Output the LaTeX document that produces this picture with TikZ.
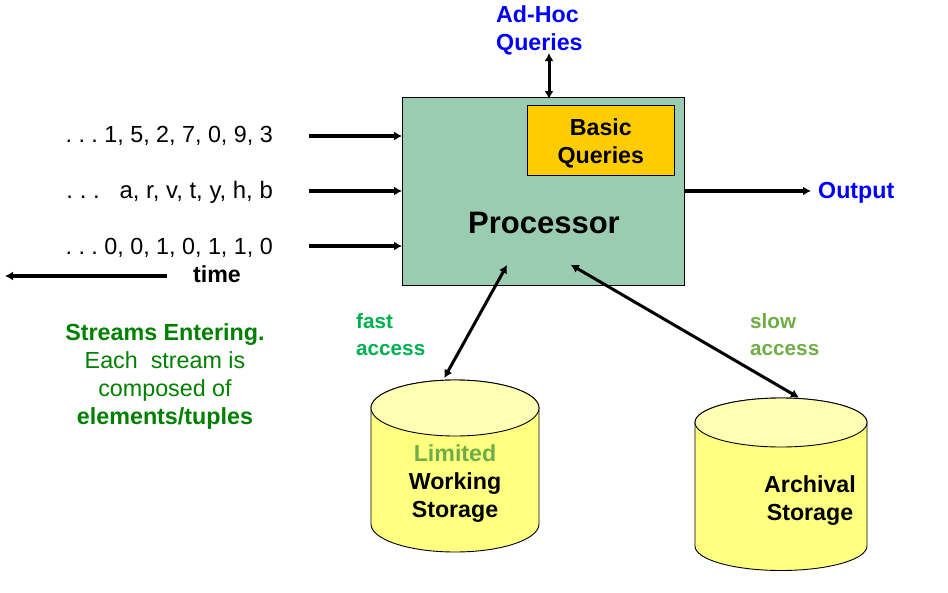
\documentclass[tikz,border=0pt]{standalone}
\usepackage{fontspec}
\setmainfont{Liberation Sans}
\usetikzlibrary{arrows.meta}
\definecolor{procg}{HTML}{99CCB0}
\definecolor{cylbody}{HTML}{FFFF80}
\definecolor{cyltop}{HTML}{FFFFB3}
\definecolor{gold}{HTML}{FFCC00}
\definecolor{dgreen}{HTML}{008000}
\definecolor{lgreen}{HTML}{70AD47}
\definecolor{mgreen}{HTML}{00B050}
\tikzset{x=1pt,y=-1pt,
 arr/.style={-{Latex[length=8pt,width=9pt]},line width=3.2pt,black},
 biarr/.style={{Latex[length=8pt,width=9pt]}-{Latex[length=8pt,width=9pt]},line width=3pt,black},
 txt/.style={font=\fontsize{23.3}{28}\selectfont\frenchspacing,inner sep=0pt,align=center},
 btxt/.style={txt,font=\fontsize{23.2}{28}\selectfont\bfseries},
 stxt/.style={txt,align=left,anchor=west,font=\fontsize{20.7}{27}\selectfont\bfseries},
 rtxt/.style={txt,anchor=east},
 boxs/.style={draw=black,line width=0.9pt}}
\begin{document}
\begin{tikzpicture}
\useasboundingbox (0,0) rectangle (948,592);
\node[boxs,fill=procg,minimum width=282pt,minimum height=188pt,inner sep=0pt] (proc) at (543.5,191.5) {};
\node[font=\fontsize{31}{34}\selectfont\bfseries,inner sep=0pt] (ptxt) at (544,223) {Processor};
\node[boxs,fill=gold,minimum width=147pt,minimum height=70pt,btxt,text width=147pt,inner sep=0pt] (bq) at (600.8,140.3) {\vphantom{Bp}\raisebox{-6pt}{Basic}\\\raisebox{-6pt}{Queries}};
\node[btxt,text=blue,align=left,anchor=west] (adhoc) at (496,30.5) {Ad-Hoc\\Queries};
\node[btxt,text=blue,anchor=west] (out) at (818,192.5) {Output};
\node[rtxt] (s1) at (273,136) {. . . 1, 5, 2, 7, 0, 9, 3};
\node[rtxt,font=\fontsize{23.9}{28}\selectfont\frenchspacing] (s2) at (273,192) {. . .~~~a, r, v, t, y, h, b};
\node[rtxt] (s3) at (273,248) {. . . 0, 0, 1, 0, 1, 1, 0};
\node[btxt] (time) at (217,274) {time};
\coordinate (tl) at (5,276);
\coordinate (tr) at (167,276);
\node[txt,text=dgreen] (st) at (165,376) {\textbf{Streams Entering.}\\Each~~stream is\\composed of\\\textbf{elements/tuples}};
\node[stxt,text=mgreen] (fast) at (356,335) {fast\\access};
\node[stxt,text=lgreen] (slow) at (750,335) {slow\\access};
% cylinders
\path[boxs,fill=cylbody] (371,408) -- (371,524) arc[x radius=84,y radius=28,start angle=180,end angle=0] -- (539,408) arc[x radius=84,y radius=28,start angle=0,end angle=-180] -- cycle;
\path[boxs,fill=cyltop] (455,408) ellipse[x radius=84,y radius=28];
\coordinate (c1) at (444.3,378);
\path[boxs,fill=cylbody] (695,422.5) -- (695,546) arc[x radius=86,y radius=24.5,start angle=180,end angle=0] -- (867,422.5) arc[x radius=86,y radius=24.5,start angle=0,end angle=-180] -- cycle;
\path[boxs,fill=cyltop] (781,422.5) ellipse[x radius=86,y radius=24.5];
\coordinate (c2) at (799,397.7);
\node[btxt] (ws) at (455,498) {Working\\Storage};
\node[btxt,text=lgreen] (lim) at (455,453) {Limited};
\node[btxt] (as) at (810,501) {Archival\\Storage};
% arrows
\coordinate (a1) at (309,136);\coordinate (a2) at (309,191);\coordinate (a3) at (309,246);
\draw[arr] (a1) -- (proc.west |- a1);
\draw[arr] (a2) -- (proc.west |- a2);
\draw[arr] (a3) -- (proc.west |- a3);
\draw[arr] (tr) -- (tl);
\coordinate (oe) at (811,191);
\draw[arr] (proc.east |- oe) -- (oe);
\coordinate (ah) at (549,53);
\coordinate (ab) at (549,99);
\draw[biarr] (ah) -- (ab);
\coordinate (p1) at (507,265);\coordinate (p2) at (570.7,264.7);
\draw[biarr] (p1) -- (c1);
\draw[biarr] (p2) -- (c2);
\end{tikzpicture}
\end{document}
